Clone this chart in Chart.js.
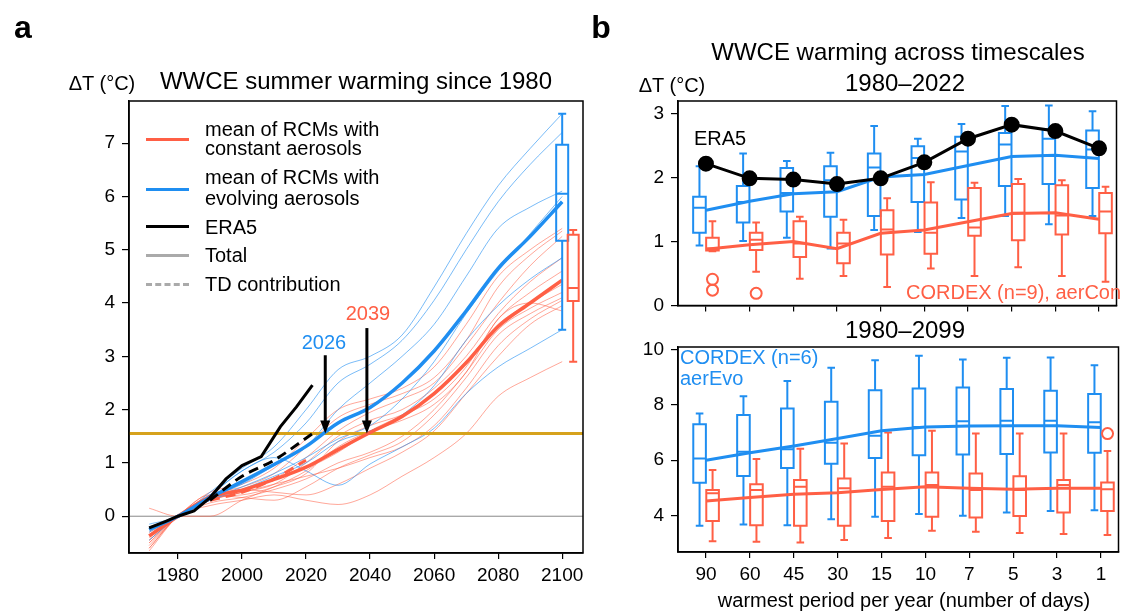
<!DOCTYPE html>
<html>
<head>
<meta charset="utf-8">
<script src="https://cdn.jsdelivr.net/npm/chart.js@4.4.1/dist/chart.umd.min.js"></script>
<style>
  body { margin: 0; background: #fff; font-family: "Liberation Sans", Arial, sans-serif; }
  #wrap { position: relative; width: 1126px; height: 611px; overflow: hidden; }
  canvas { position: absolute; left: 0; top: 0; }
  .t { position: absolute; white-space: nowrap; line-height: 1; color: #000; transform: translate(-50%, -50%); }
  .l { position: absolute; white-space: nowrap; line-height: 1; color: #000; transform: translateY(-50%); }
  .sw { position: absolute; height: 0; }
</style>
</head>
<body>
<div id="wrap">
  <canvas id="chartA" width="1126" height="611"></canvas>
  <canvas id="chartBtop" width="1126" height="611"></canvas>
  <canvas id="chartBbot" width="1126" height="611"></canvas>

  <div class="t" style="left:23px;top:27px;font-size:32px;font-weight:bold">a</div>
  <div class="t" style="left:601px;top:27px;font-size:32px;font-weight:bold">b</div>

  <div class="t" style="left:356px;top:81px;font-size:24px">WWCE summer warming since 1980</div>
  <div class="t" style="left:102px;top:83px;font-size:20px">ΔT (°C)</div>

  <!-- legend panel a -->
  <div class="sw" style="left:146px;top:137.5px;width:43px;border-top:3.5px solid #ff5f45"></div>
  <div class="l" style="left:205px;top:129px;font-size:20px">mean of RCMs with</div>
  <div class="l" style="left:205px;top:148px;font-size:20px">constant aerosols</div>
  <div class="sw" style="left:146px;top:187.5px;width:43px;border-top:3.5px solid #1f8ef1"></div>
  <div class="l" style="left:205px;top:177px;font-size:20px">mean of RCMs with</div>
  <div class="l" style="left:205px;top:198px;font-size:20px">evolving aerosols</div>
  <div class="sw" style="left:146px;top:225px;width:43px;border-top:3.5px solid #000"></div>
  <div class="l" style="left:205px;top:227px;font-size:20px">ERA5</div>
  <div class="sw" style="left:146px;top:253.5px;width:43px;border-top:3px solid #aaa"></div>
  <div class="l" style="left:205px;top:255px;font-size:20px">Total</div>
  <div class="sw" style="left:146px;top:282.5px;width:43px;border-top:3px dashed #aaa"></div>
  <div class="l" style="left:205px;top:284px;font-size:20px">TD contribution</div>

  <div class="t" style="left:324px;top:342px;font-size:20px;color:#1f8ef1">2026</div>
  <div class="t" style="left:368px;top:313px;font-size:20px;color:#ff5f45">2039</div>

  <div class="t" style="left:898px;top:52px;font-size:24px">WWCE warming across timescales</div>
  <div class="t" style="left:905px;top:83px;font-size:24px">1980–2022</div>
  <div class="t" style="left:672px;top:85px;font-size:20px">ΔT (°C)</div>
  <div class="l" style="left:694px;top:138px;font-size:20px">ERA5</div>
  <div class="l" style="left:906px;top:292px;font-size:20px;color:#ff5f45">CORDEX (n=9), aerCon</div>

  <div class="t" style="left:905px;top:330px;font-size:24px">1980–2099</div>
  <div class="l" style="left:680px;top:357px;font-size:20px;color:#1f8ef1">CORDEX (n=6)</div>
  <div class="l" style="left:680px;top:378px;font-size:20px;color:#1f8ef1">aerEvo</div>
  <div class="t" style="left:904px;top:600px;font-size:20px">warmest period per year (number of days)</div>
</div>

<script>
// ---------- panel a data ----------
const rcmYears = [1971, 1980, 1990, 2000, 2010, 2020, 2030, 2040, 2050, 2060, 2070, 2080, 2090, 2100];
const meanAerCon = [-0.37, 0, 0.36, 0.49, 0.69, 0.92, 1.25, 1.57, 1.87, 2.3, 2.88, 3.56, 4.0, 4.43];
const meanAerEvo = [-0.25, 0, 0.35, 0.65, 0.97, 1.31, 1.75, 2.04, 2.5, 3.1, 3.85, 4.65, 5.25, 5.9];

// single RCM runs, constant aerosols
const rcmAerCon = [
  [-0.55, 0, 0.45, 0.6, 0.9, 1.45, 2.0, 2.2, 2.4, 2.8, 3.6, 4.5, 5.0, 5.4],
  [-0.45, 0, 0.4, 0.55, 0.8, 1.3, 1.85, 2.1, 2.3, 2.6, 3.3, 4.3, 4.9, 5.35],
  [-0.6, 0, 0.35, 0.5, 0.7, 1.1, 1.6, 1.95, 2.2, 2.5, 3.2, 4.0, 4.7, 5.25],
  [-0.4, 0, 0.3, 0.45, 0.6, 1.0, 1.5, 1.8, 2.0, 2.4, 3.0, 3.8, 4.4, 4.85],
  [-0.5, 0, 0.35, 0.4, 0.55, 0.8, 1.4, 1.7, 1.9, 2.2, 2.8, 3.7, 4.2, 4.6],
  [-0.65, 0, 0.3, 0.45, 0.7, 0.9, 1.2, 1.6, 1.9, 2.3, 2.9, 3.6, 4.0, 4.35],
  [-0.35, 0, 0.25, 0.35, 0.5, 0.7, 1.0, 1.2, 1.5, 2.0, 2.7, 3.5, 3.9, 4.2],
  [-0.5, 0, 0.4, 0.35, 0.3, 0.55, 0.9, 1.15, 1.4, 1.9, 2.6, 3.4, 3.8, 4.1],
  [0.15, 0, 0.0, 0.3, 0.55, 0.85, 1.3, 1.6, 1.8, 2.1, 2.7, 3.7, 4.0, 3.85],
  [-0.3, 0, 0.3, 0.45, 0.6, 0.75, 0.9, 1.1, 1.3, 1.7, 2.4, 3.2, 3.7, 4.05],
  [-0.45, 0, 0.35, 0.5, 0.45, 0.4, 0.6, 0.9, 1.2, 1.6, 2.3, 3.0, 3.6, 3.95],
  [-0.6, 0, 0.2, 0.3, 0.4, 0.3, 0.22, 0.4, 0.75, 1.1, 1.55, 2.25, 2.6, 2.9]
];
// single RCM runs, evolving aerosols
const rcmAerEvo = [
  [-0.15, 0, 0.45, 0.9, 1.3, 2.0, 2.75, 3.0, 3.4, 4.3, 5.3, 6.2, 6.9, 7.55],
  [-0.2, 0, 0.4, 0.85, 1.2, 1.75, 2.5, 2.85, 3.3, 4.05, 5.0, 5.9, 6.6, 7.2],
  [-0.35, 0, 0.35, 0.6, 0.95, 1.3, 2.0, 2.5, 3.0, 3.6, 4.5, 5.4, 5.8, 6.1],
  [-0.3, 0, 0.3, 0.55, 0.8, 1.1, 1.45, 1.7, 2.2, 2.9, 3.8, 4.6, 5.3, 6.0],
  [-0.25, 0, 0.3, 0.5, 0.75, 1.0, 1.4, 1.6, 1.9, 2.45, 3.3, 3.95, 4.45, 4.85],
  [-0.45, 0, 0.4, 0.85, 1.1, 0.85, 0.58, 0.98, 1.3, 1.65, 2.3, 2.8, 3.15, 3.5]
];

const era5Years = [1971, 1976, 1980, 1985, 1990, 1995, 2000, 2006, 2012, 2017, 2022];
const era5Total = [-0.22, -0.1, 0, 0.1, 0.35, 0.7, 0.95, 1.12, 1.68, 2.05, 2.46];
const tdEra5Years = [1990, 2000, 2010, 2022];
const tdEra5 = [0.3, 0.75, 1.05, 1.55];
const tdConYears = [1990, 2000, 2010, 2020];
const tdAerCon = [0.3, 0.45, 0.7, 1.05];

// [min, q1, median, q3, max] of 2100 warming
const box2100AerEvo = [3.5, 5.17, 6.05, 6.97, 7.55];
const box2100AerCon = [2.9, 4.04, 4.28, 5.28, 5.37];

const threshold = 1.55;
const crossYears = [2026, 2039];
const arrowFrom = [3.02, 3.53];

const xTicksA = [1980, 2000, 2020, 2040, 2060, 2080, 2100];
const yTicksA = [0, 1, 2, 3, 4, 5, 6, 7];

// ---------- panel b data ----------
const periods = ['90', '60', '45', '30', '15', '10', '7', '5', '3', '1'];

const era5Recent = [2.22, 1.99, 1.97, 1.90, 1.99, 2.24, 2.61, 2.83, 2.73, 2.46];
const meanEvoRecent = [1.49, 1.63, 1.75, 1.78, 2.01, 2.05, 2.19, 2.33, 2.35, 2.30];
const meanConRecent = [0.88, 0.95, 1.0, 0.89, 1.13, 1.18, 1.31, 1.44, 1.45, 1.35];
const boxEvoRecent = [
  [0.94, 1.14, 1.53, 1.70, 2.18], [1.01, 1.30, 1.62, 1.87, 2.38], [1.06, 1.47, 1.76, 2.15, 2.26],
  [0.89, 1.39, 1.96, 2.18, 2.39], [1.18, 1.40, 2.16, 2.38, 2.81], [1.15, 1.62, 2.31, 2.49, 2.61],
  [1.37, 1.66, 2.41, 2.64, 2.84], [1.40, 1.87, 2.52, 2.70, 3.12], [1.27, 1.90, 2.61, 2.76, 3.13],
  [1.40, 1.84, 2.44, 2.74, 3.04]
];
const boxConRecent = [
  [0.85, 0.86, 0.89, 1.06, 1.32], [0.53, 0.87, 1.03, 1.14, 1.30], [0.42, 0.76, 0.97, 1.32, 1.39],
  [0.46, 0.66, 0.97, 1.14, 1.34], [0.29, 0.80, 1.19, 1.49, 1.68], [0.58, 0.81, 1.14, 1.61, 1.93],
  [0.46, 1.09, 1.22, 1.84, 1.92], [0.60, 1.02, 1.45, 1.90, 1.98], [0.46, 1.11, 1.41, 1.88, 1.96],
  [0.37, 1.13, 1.47, 1.76, 1.86]
];
const outConRecentCat = [0, 0, 1];
const outConRecent = [0.41, 0.24, 0.19];

const meanEvoFuture = [6.0, 6.27, 6.51, 6.78, 7.06, 7.20, 7.23, 7.24, 7.24, 7.18];
const meanConFuture = [4.52, 4.65, 4.77, 4.82, 4.94, 5.04, 4.98, 4.95, 4.98, 4.98];
const boxEvoFuture = [
  [3.63, 5.18, 6.06, 7.30, 7.69], [3.67, 5.43, 6.30, 7.63, 8.31], [3.65, 5.72, 6.39, 7.87, 8.86],
  [3.86, 5.87, 6.63, 8.11, 9.34], [3.95, 6.08, 6.88, 8.53, 9.61], [4.05, 6.18, 7.20, 8.59, 9.77],
  [3.99, 6.20, 7.41, 8.63, 9.64], [4.11, 6.22, 7.42, 8.57, 9.70], [4.16, 6.28, 7.42, 8.51, 9.71],
  [4.19, 6.27, 7.37, 8.39, 9.43]
];
const boxConFuture = [
  [3.07, 3.80, 4.80, 4.92, 5.64], [3.05, 3.65, 4.92, 5.13, 6.04], [3.02, 3.63, 5.04, 5.28, 6.41],
  [3.11, 3.63, 4.98, 5.34, 6.60], [3.19, 3.80, 5.04, 5.55, 7.00], [3.45, 3.95, 5.10, 5.55, 7.06],
  [3.41, 3.93, 4.92, 5.52, 6.96], [3.37, 3.98, 4.92, 5.42, 6.96], [3.33, 4.11, 5.10, 5.28, 6.96],
  [3.29, 4.16, 4.95, 5.19, 6.33]
];
const outConFutureCat = [9];
const outConFuture = [6.96];

const yTicksTop = [0, 1, 2, 3];
const yTicksBottom = [4, 6, 8, 10];

// ---------- styling ----------
const RED = '#ff5f45';
const BLUE = '#1f8ef1';
const RED_THIN = 'rgba(255, 95, 69, 0.55)';
const BLUE_THIN = 'rgba(31, 142, 241, 0.6)';
const GOLD = '#d6a21c';

Chart.defaults.font.family = "'Liberation Sans', Arial, sans-serif";
Chart.defaults.font.size = 19;
Chart.defaults.color = '#000';

function pts(xs, ys) {
  return xs.map((x, i) => ({ x: x, y: ys[i] }));
}

// box and whisker drawing through the chart scales
const boxPlugin = {
  id: 'boxes',
  draw(chart, opts) {
    const ctx = chart.ctx;
    const xs = chart.scales.x, ys = chart.scales.y;
    ctx.save();
    for (const s of opts.series) {
      ctx.strokeStyle = s.color;
      ctx.lineWidth = s.lw;
      s.boxes.forEach((b, i) => {
        const cx = xs.getPixelForValue(s.xs[i]) + s.shift;
        const p = b.map(v => ys.getPixelForValue(v));
        const hw = s.halfW, cw = s.capW;
        ctx.beginPath();
        ctx.rect(cx - hw, p[3], 2 * hw, p[1] - p[3]);
        ctx.moveTo(cx - hw, p[2]); ctx.lineTo(cx + hw, p[2]);
        ctx.moveTo(cx, p[1]); ctx.lineTo(cx, p[0]);
        ctx.moveTo(cx, p[3]); ctx.lineTo(cx, p[4]);
        ctx.moveTo(cx - cw, p[0]); ctx.lineTo(cx + cw, p[0]);
        ctx.moveTo(cx - cw, p[4]); ctx.lineTo(cx + cw, p[4]);
        ctx.stroke();
      });
    }
    ctx.restore();
  },
  beforeDatasetsDraw(chart, args, opts) { if (opts.behind) this.draw(chart, opts); },
  afterDatasetsDraw(chart, args, opts) { if (!opts.behind) this.draw(chart, opts); }
};

// frame around the plot + arrows
const framePlugin = {
  id: 'frame',
  afterDraw(chart, args, opts) {
    const ctx = chart.ctx, a = chart.chartArea;
    ctx.save();
    if (opts.arrows) {
      const xs = chart.scales.x, ys = chart.scales.y;
      ctx.strokeStyle = '#000';
      ctx.fillStyle = '#000';
      ctx.lineWidth = 3;
      opts.arrows.x.forEach((yr, i) => {
        const x = xs.getPixelForValue(yr);
        const y0 = ys.getPixelForValue(opts.arrows.from[i]);
        const y1 = ys.getPixelForValue(opts.arrows.to);
        ctx.beginPath();
        ctx.moveTo(x, y0); ctx.lineTo(x, y1 - 10);
        ctx.stroke();
        ctx.beginPath();
        ctx.moveTo(x - 5, y1 - 13); ctx.lineTo(x + 5, y1 - 13); ctx.lineTo(x, y1);
        ctx.closePath();
        ctx.fill();
      });
    }
    ctx.strokeStyle = '#000';
    ctx.lineWidth = 1.5;
    ctx.strokeRect(a.left, a.top, a.right - a.left, a.bottom - a.top);
    ctx.restore();
  }
};

function axisX(min, max, ticks, labelFn, height) {
  return {
    type: 'linear', min: min, max: max,
    afterBuildTicks: s => { s.ticks = ticks.map(v => ({ value: v })); },
    afterFit: s => { s.height = height; },
    ticks: { autoSkip: false, maxRotation: 0, padding: 5, callback: labelFn, font: { size: 19 } },
    grid: { drawOnChartArea: false, color: '#000', tickLength: 6, lineWidth: 1.2 },
    border: { color: '#000', width: 1.5 }
  };
}

function axisY(min, max, ticks, width) {
  return {
    type: 'linear', min: min, max: max,
    afterBuildTicks: s => { s.ticks = ticks.map(v => ({ value: v })); },
    afterFit: s => { s.width = width; },
    ticks: { padding: 7, callback: v => String(v), font: { size: 19 } },
    grid: { drawOnChartArea: false, color: '#000', tickLength: 7, lineWidth: 1.2 },
    border: { color: '#000', width: 1.5 }
  };
}

const baseOpts = {
  responsive: false,
  animation: false,
  devicePixelRatio: 1,
  events: [],
  elements: { point: { radius: 0 } }
};

// ---------- panel a ----------
const dsA = [];
rcmAerCon.forEach(run => dsA.push({
  data: pts(rcmYears, run), borderColor: RED_THIN, borderWidth: 1,
  cubicInterpolationMode: 'monotone', order: 10
}));
rcmAerEvo.forEach(run => dsA.push({
  data: pts(rcmYears, run), borderColor: BLUE_THIN, borderWidth: 1,
  cubicInterpolationMode: 'monotone', order: 9
}));
dsA.push({ data: pts([1964.7, 2106.5], [0, 0]), borderColor: '#888', borderWidth: 1, order: 20 });
dsA.push({ data: pts([1964.7, 2106.5], [threshold, threshold]), borderColor: GOLD, borderWidth: 3, order: 7 });
dsA.push({ data: pts(rcmYears, meanAerCon), borderColor: RED, borderWidth: 3.5, cubicInterpolationMode: 'monotone', order: 5 });
dsA.push({ data: pts(rcmYears, meanAerEvo), borderColor: BLUE, borderWidth: 3.5, cubicInterpolationMode: 'monotone', order: 4 });
dsA.push({ data: pts(tdConYears, tdAerCon), borderColor: RED, borderWidth: 3, borderDash: [10, 6], cubicInterpolationMode: 'monotone', order: 3 });
dsA.push({ data: pts(tdEra5Years, tdEra5), borderColor: '#000', borderWidth: 3, borderDash: [10, 6], cubicInterpolationMode: 'monotone', order: 2 });
dsA.push({ data: pts(era5Years, era5Total), borderColor: '#000', borderWidth: 3, order: 1 });

new Chart(document.getElementById('chartA'), {
  type: 'line',
  data: { datasets: dsA },
  options: Object.assign({}, baseOpts, {
    layout: { padding: { left: 69, top: 101, right: 543, bottom: 18 } },
    scales: {
      x: axisX(1964.7, 2106.5, xTicksA, v => String(v), 40),
      y: axisY(-0.69, 7.79, yTicksA, 60)
    },
    plugins: {
      legend: { display: false }, tooltip: { enabled: false },
      boxes: {
        behind: false,
        series: [
          { boxes: [box2100AerEvo], xs: [2100], shift: 0, color: BLUE, lw: 2, halfW: 6, capW: 4 },
          { boxes: [box2100AerCon], xs: [2100], shift: 11, color: RED, lw: 2, halfW: 5.5, capW: 4 }
        ]
      },
      frame: { arrows: { x: crossYears, from: arrowFrom, to: threshold } }
    }
  }),
  plugins: [boxPlugin, framePlugin]
});

// ---------- panel b ----------
const catIdx = periods.map((p, i) => i);
const catLabel = v => periods[v];

function panelB(id, padTop, padBottom, yMin, yMax, yTicks, showLabels, xH, datasets, boxSeries) {
  new Chart(document.getElementById(id), {
    type: 'line',
    data: { datasets: datasets },
    options: Object.assign({}, baseOpts, {
      layout: { padding: { left: 628, top: padTop, right: 5, bottom: padBottom } },
      scales: {
        x: axisX(-0.64, 9.4, catIdx, showLabels ? catLabel : () => '', xH),
        y: axisY(yMin, yMax, yTicks, 50)
      },
      plugins: {
        legend: { display: false }, tooltip: { enabled: false },
        boxes: { behind: true, series: boxSeries },
        frame: {}
      }
    }),
    plugins: [boxPlugin, framePlugin]
  });
}

const outStyle = {
  type: 'scatter', showLine: false, pointRadius: 5.5, pointBorderWidth: 2,
  pointBorderColor: RED, pointBackgroundColor: 'rgba(0,0,0,0)', order: 0
};

panelB('chartBtop', 101, 295.5, 0, 3.2, yTicksTop, false, 10, [
  { data: pts(catIdx, meanConRecent), borderColor: RED, borderWidth: 3, order: 3 },
  { data: pts(catIdx, meanEvoRecent), borderColor: BLUE, borderWidth: 3, order: 2 },
  { data: pts(catIdx, era5Recent), borderColor: '#000', borderWidth: 3, pointRadius: 6.5,
    pointBackgroundColor: '#000', pointBorderColor: '#000', order: 1 },
  Object.assign({ data: pts(outConRecentCat.map(c => c + 0.15), outConRecent) }, outStyle)
], [
  { boxes: boxEvoRecent, xs: catIdx, shift: -6.5, color: BLUE, lw: 2, halfW: 6.3, capW: 3.8 },
  { boxes: boxConRecent, xs: catIdx, shift: 6.5, color: RED, lw: 2, halfW: 6.3, capW: 3.8 }
]);

panelB('chartBbot', 347, 19, 2.68, 10.09, yTicksBottom, true, 40, [
  { data: pts(catIdx, meanConFuture), borderColor: RED, borderWidth: 3, order: 3 },
  { data: pts(catIdx, meanEvoFuture), borderColor: BLUE, borderWidth: 3, order: 2 },
  Object.assign({ data: pts(outConFutureCat.map(c => c + 0.15), outConFuture) }, outStyle)
], [
  { boxes: boxEvoFuture, xs: catIdx, shift: -6.5, color: BLUE, lw: 2, halfW: 6.3, capW: 3.8 },
  { boxes: boxConFuture, xs: catIdx, shift: 6.5, color: RED, lw: 2, halfW: 6.3, capW: 3.8 }
]);
</script>
</body>
</html>
